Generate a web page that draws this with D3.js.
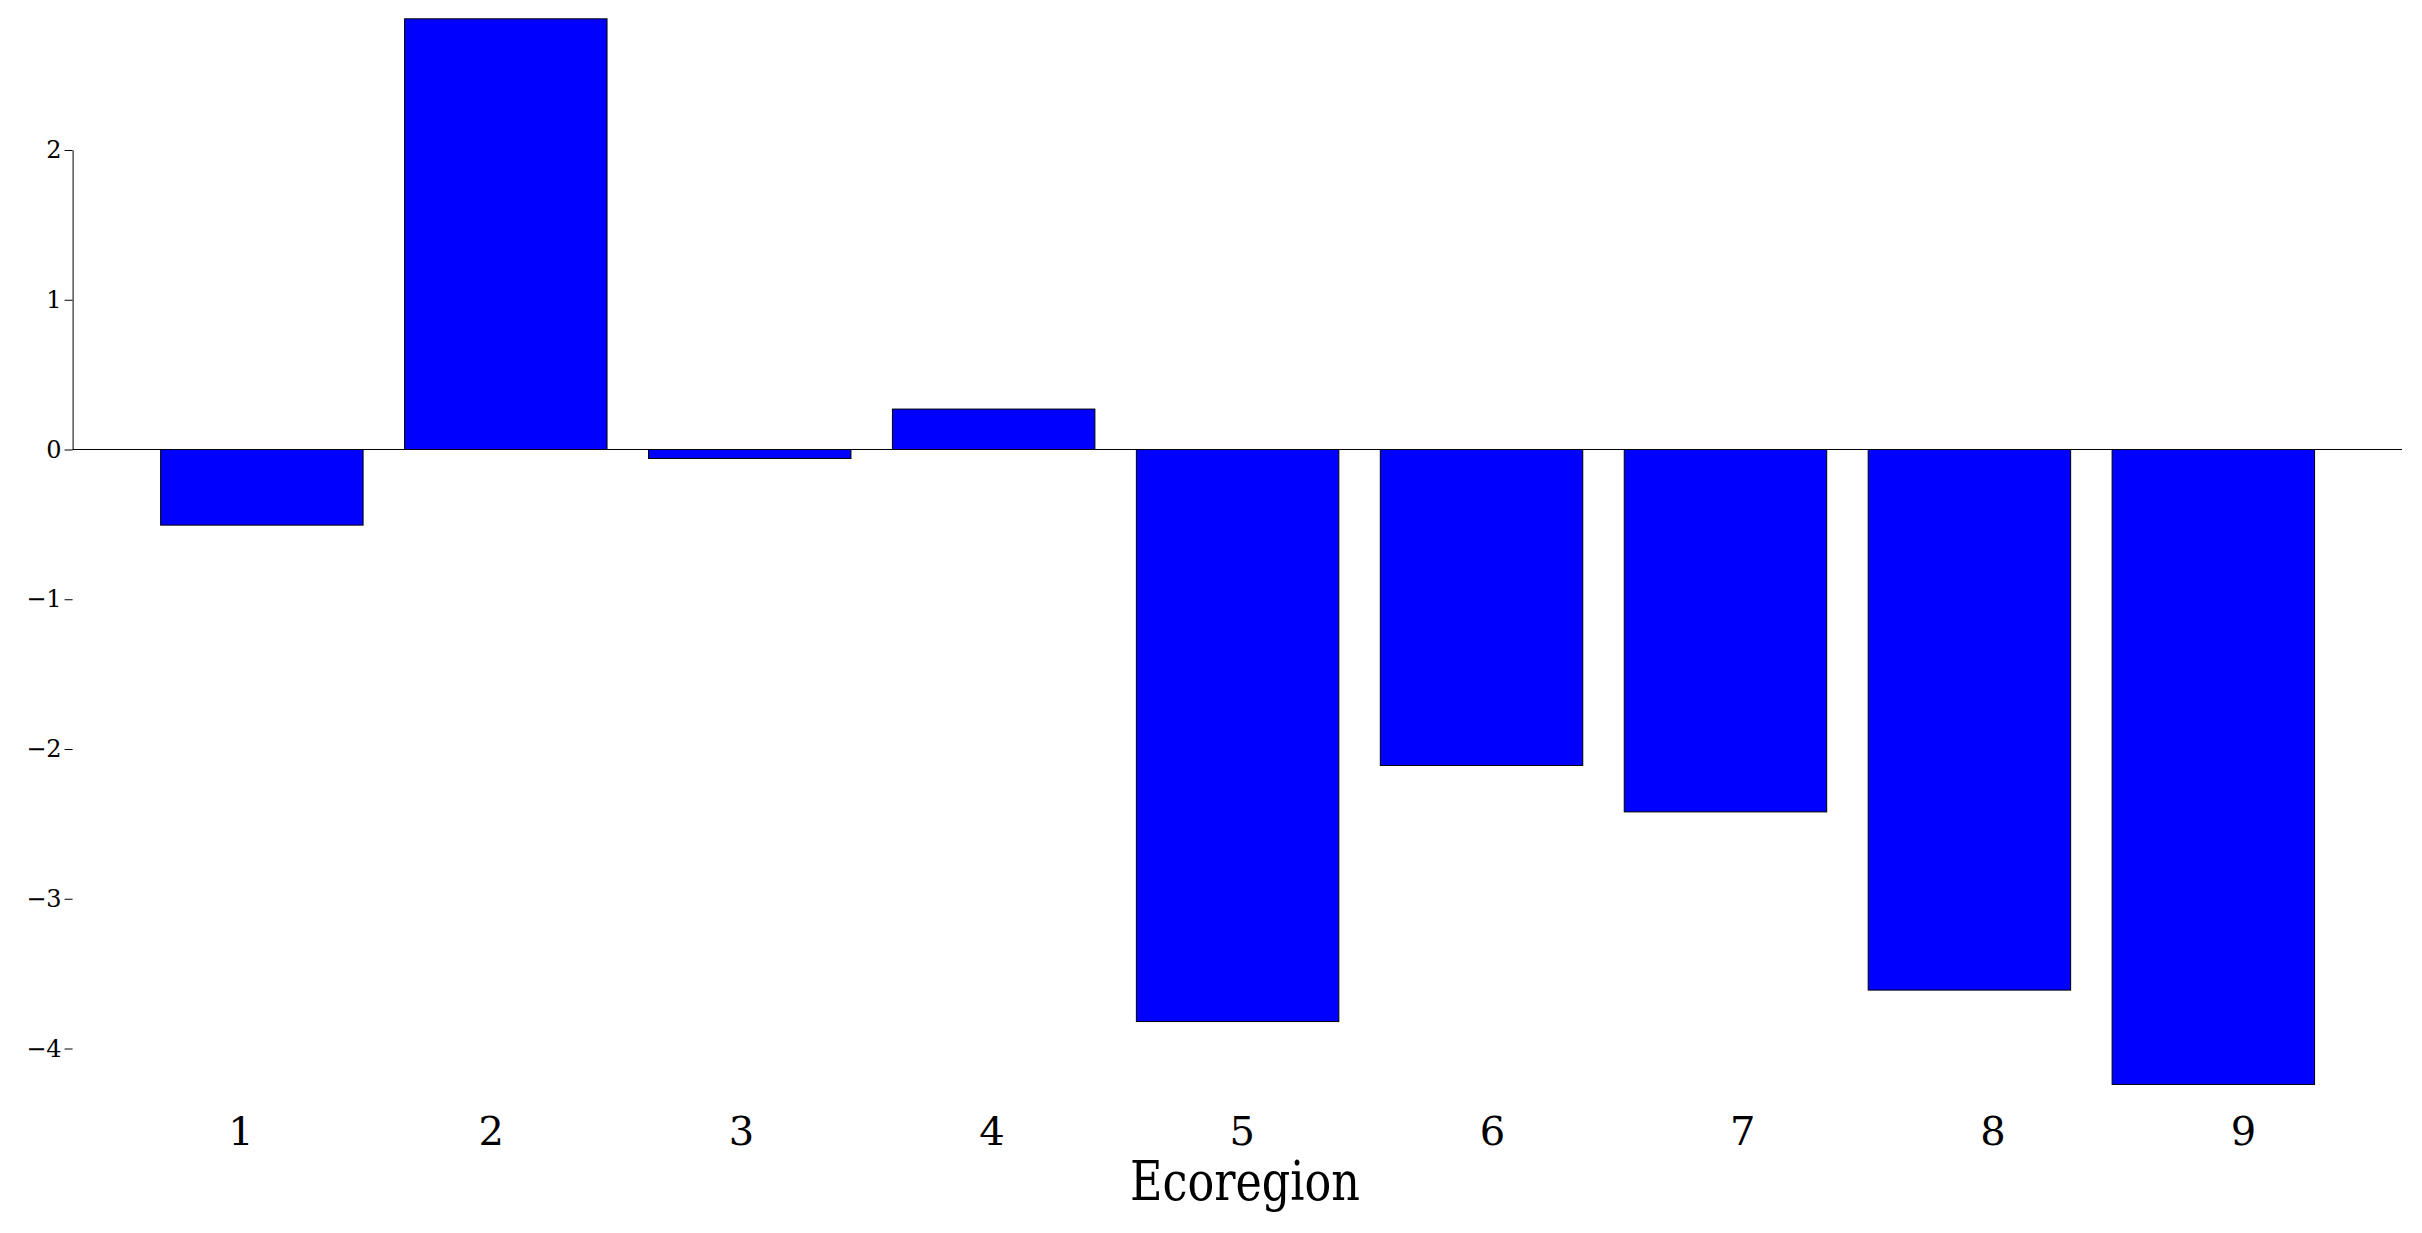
<!DOCTYPE html>
<html><head><meta charset="utf-8">
<script src="https://cdn.jsdelivr.net/npm/d3@7"></script>
<style>body{margin:0;background:#fff}</style></head>
<body><svg id="c" width="2422" height="1233"></svg>
<script>
const categories = ["1","2","3","4","5","6","7","8","9"];
const values = [-0.505, 2.876, -0.06, 0.27, -3.82, -2.11, -2.42, -3.61, -4.24];
const yTicks = [-4,-3,-2,-1,0,1,2];
const xTitle = "Ecoregion";

const svg = d3.select("#c");
const font = "'DejaVu Serif', serif";
const y = d3.scaleLinear().domain([0,2]).range([449.5,150]);
const xb = d3.scaleBand().domain(categories).range([160.6-21, 160.6-21+244*9]).paddingInner(0.17).paddingOuter(0.0862);
const xl = d3.scalePoint().domain(categories).range([241, 241+250.3*8]);

svg.selectAll("rect.bar").data(values).join("rect")
  .attr("x",(d,i)=>xb(categories[i])).attr("width",xb.bandwidth())
  .attr("y",d=>y(Math.max(0,d))).attr("height",d=>Math.abs(y(d)-y(0)))
  .attr("fill","#0000ff").attr("stroke","#000").attr("stroke-width",1);

const ya = svg.append("g").attr("transform","translate(72.6,0)")
  .call(d3.axisLeft(y).tickValues(yTicks).tickFormat(d3.format("d")).tickSize(8).tickSizeOuter(0));
ya.select(".domain").attr("stroke","#000");
ya.selectAll("text").attr("font-family",font).attr("font-size",24).attr("fill","#000");

svg.append("line").attr("x1",72.6).attr("x2",2402).attr("y1",y(0)).attr("y2",y(0)).attr("stroke","#000").attr("stroke-width",1.2);

svg.selectAll("text.xl").data(categories).join("text")
  .attr("x",d=>xl(d)).attr("y",1145).attr("text-anchor","middle")
  .attr("font-family",font).attr("font-size",40).text(d=>d);

svg.append("text").attr("x",1245).attr("y",1200).attr("text-anchor","middle")
  .attr("font-family",font).attr("font-size",54).attr("textLength",230).attr("lengthAdjust","spacingAndGlyphs").text(xTitle);
</script></body></html>
